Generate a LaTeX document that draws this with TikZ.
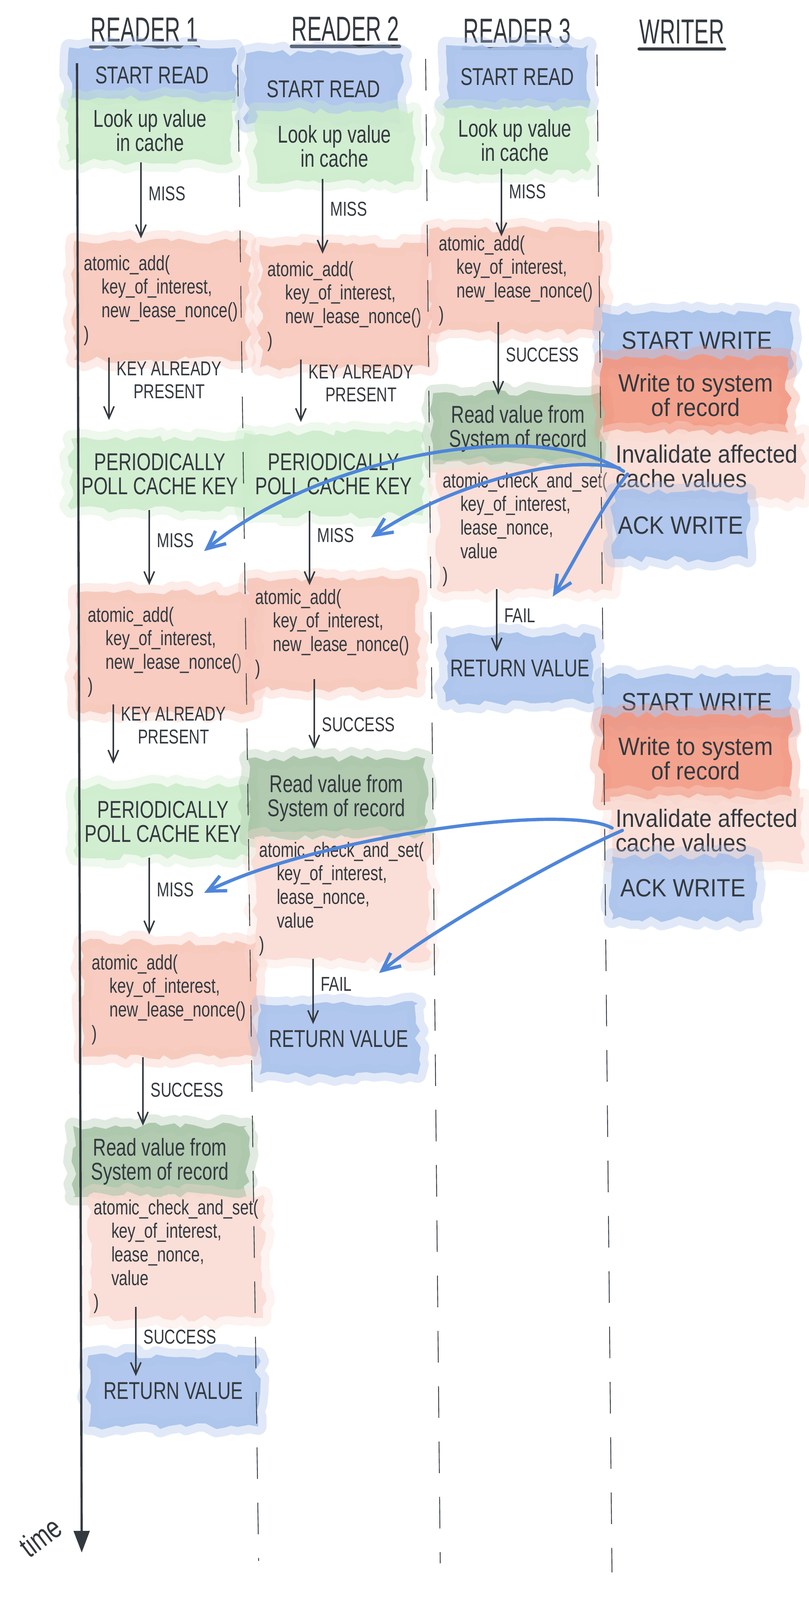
\documentclass[tikz,border=0pt]{standalone}
\usepackage{fontspec}
\setmainfont{Liberation Sans}[FakeStretch=0.75]
\newfontfamily\titlefont{Liberation Sans}[FakeStretch=0.62]
\newfontfamily\writerfont{Liberation Sans}[FakeStretch=0.9]
\usetikzlibrary{positioning, arrows.meta, decorations.pathmorphing}
\definecolor{ink}{HTML}{34393F}
\definecolor{wcblue}{HTML}{A9C1EB}
\definecolor{wcgreen}{HTML}{CDECCC}
\definecolor{wcdkgreen}{HTML}{A9C4A7}
\definecolor{wcsalmon}{HTML}{F7C6BA}
\definecolor{wcpink}{HTML}{FADCD4}
\definecolor{wcred}{HTML}{F29882}
\definecolor{pencilblue}{HTML}{4F86DA}
\newcommand{\codeind}{\hspace*{4.5mm}}

\begin{document}
\begin{tikzpicture}
    [
        ink_arrow/.style={-{Straight Barb[length=3mm, width=2.6mm]}, line width=1.1pt, draw=ink},
        blue_arrow/.style={-{Straight Barb[length=4.5mm, width=4.2mm]}, line width=2.4pt, draw=pencilblue, line cap=round},
        axis_arrow/.style={-{Triangle[length=5.5mm, width=4mm]}, line width=1.6pt, draw=ink},
        sep_line/.style={draw=ink, line width=0.6pt, dash pattern=on 8mm off 6mm},
        lbl/.style={font=\fontsize{14.5}{16.5}\selectfont, text=ink, inner sep=2pt, right=3pt, align=center},
        title/.style={font=\titlefont\fontsize{25}{25}\selectfont, text=ink, inner sep=0pt},
        uline/.style={draw=ink, line width=2.4pt, line cap=round},
        blob/.style={decorate, decoration={random steps, segment length=6pt, amplitude=2.5pt}, line join=round, fill opacity=0.9, text opacity=1, text=ink, align=center, font=\fontsize{17.5}{17.5}\selectfont},
        blue_blob/.style={blob, fill=wcblue, preaction={draw=wcblue, line width=12pt, draw opacity=0.35}},
        green_blob/.style={blob, fill=wcgreen, preaction={draw=wcgreen, line width=12pt, draw opacity=0.35}},
        dkgreen_blob/.style={blob, fill=wcdkgreen, preaction={draw=wcdkgreen, line width=12pt, draw opacity=0.35}},
        salmon_blob/.style={blob, fill=wcsalmon, preaction={draw=wcsalmon, line width=12pt, draw opacity=0.35}},
        pink_blob/.style={blob, fill=wcpink, preaction={draw=wcpink, line width=12pt, draw opacity=0.35}},
        red_blob/.style={blob, fill=wcred, preaction={draw=wcred, line width=12pt, draw opacity=0.35}},
        code/.style={align=left, font=\fontsize{15}{17}\selectfont},
        writer/.style={font=\writerfont\fontsize{18}{17.5}\selectfont},
    ]
        \useasboundingbox (0,0) rectangle (20.48,-40.50);

        % column heads
        \node[title] (t1) at (3.66,-0.75) {READER 1};
        \node[title] (t2) at (8.75,-0.73) {READER 2};
        \node[title] (t3) at (13.10,-0.78) {READER 3};
        \node[title] (t4) at (17.27,-0.80) {WRITER};
        \draw[uline] ([yshift=-1.3mm]t1.south west) -- ([yshift=-1.3mm]t1.south east);
        \draw[uline] ([yshift=-1.3mm]t2.south west) -- ([yshift=-1.3mm]t2.south east);
        \draw[uline] ([yshift=-1.3mm]t3.south west) -- ([yshift=-1.3mm]t3.south east);
        \draw[uline] ([yshift=-1.3mm]t4.south west) -- ([yshift=-1.3mm]t4.south east);

        % reader 1
        \node[blue_blob, minimum width=4.2cm, minimum height=1.4cm] (r1start) at (3.85,-1.90) {START READ};
        \node[green_blob, minimum width=4.2cm, minimum height=1.6cm] (r1look) at (3.80,-3.30) {Look up value\\in cache};
        \node[salmon_blob, code, minimum width=4.4cm, minimum height=3.0cm] (r1add) at (4.08,-7.60) {atomic\_add(\\\codeind key\_of\_interest,\\\codeind new\_lease\_nonce()\\)};
        \node[green_blob, minimum width=4.5cm, minimum height=1.8cm] (r1poll) at (4.05,-12.00) {PERIODICALLY\\POLL CACHE KEY};
        \node[salmon_blob, code, minimum width=4.5cm, minimum height=3.0cm] (r1add2) at (4.18,-16.50) {atomic\_add(\\\codeind key\_of\_interest,\\\codeind new\_lease\_nonce()\\)};
        \node[green_blob, minimum width=4.4cm, minimum height=1.8cm] (r1poll2) at (4.13,-20.80) {PERIODICALLY\\POLL CACHE KEY};
        \node[salmon_blob, code, minimum width=4.4cm, minimum height=2.9cm] (r1add3) at (4.28,-25.30) {atomic\_add(\\\codeind key\_of\_interest,\\\codeind new\_lease\_nonce()\\)};
        \node[dkgreen_blob, minimum width=4.4cm, minimum height=1.8cm] (r1read) at (4.05,-29.40) {Read value from\\System of record};
        \node[pink_blob, code, minimum width=4.1cm, minimum height=3.1cm] (r1cas) at (4.46,-31.80) {atomic\_check\_and\_set(\\\codeind key\_of\_interest,\\\codeind lease\_nonce,\\\codeind value\\)};
        \node[blue_blob, minimum width=4.3cm, minimum height=1.8cm] (r1ret) at (4.39,-35.21) {RETURN VALUE};

        % reader 2
        \node[blue_blob, minimum width=3.9cm, minimum height=1.8cm] (r2start) at (8.19,-2.25) {START READ};
        \node[green_blob, minimum width=4.0cm, minimum height=1.8cm] (r2look) at (8.47,-3.70) {Look up value\\in cache};
        \node[salmon_blob, code, minimum width=4.3cm, minimum height=3.1cm] (r2add) at (8.73,-7.75) {atomic\_add(\\\codeind key\_of\_interest,\\\codeind new\_lease\_nonce()\\)};
        \node[green_blob, minimum width=4.5cm, minimum height=2.1cm] (r2poll) at (8.45,-12.00) {PERIODICALLY\\POLL CACHE KEY};
        \node[salmon_blob, code, minimum width=4.3cm, minimum height=2.8cm] (r2add2) at (8.42,-16.05) {atomic\_add(\\\codeind key\_of\_interest,\\\codeind new\_lease\_nonce()\\)};
        \node[dkgreen_blob, minimum width=4.5cm, minimum height=2.0cm] (r2read) at (8.52,-20.20) {Read value from\\System of record};
        \node[pink_blob, code, minimum width=4.1cm, minimum height=2.9cm] (r2cas) at (8.65,-22.75) {atomic\_check\_and\_set(\\\codeind key\_of\_interest,\\\codeind lease\_nonce,\\\codeind value\\)};
        \node[blue_blob, minimum width=4.0cm, minimum height=1.8cm] (r2ret) at (8.58,-26.30) {RETURN VALUE};

        % reader 3
        \node[blue_blob, minimum width=3.6cm, minimum height=1.6cm] (r3start) at (13.10,-1.94) {START READ};
        \node[green_blob, minimum width=3.7cm, minimum height=1.6cm] (r3look) at (13.04,-3.55) {Look up value\\in cache};
        \node[salmon_blob, code, minimum width=4.4cm, minimum height=2.6cm] (r3add) at (13.07,-7.10) {atomic\_add(\\\codeind key\_of\_interest,\\\codeind new\_lease\_nonce()\\)};
        \node[dkgreen_blob, minimum width=4.3cm, minimum height=1.8cm] (r3read) at (13.12,-10.85) {Read value from\\System of record};
        \node[pink_blob, code, minimum width=4.1cm, minimum height=3.0cm] (r3cas) at (13.30,-13.40) {atomic\_check\_and\_set(\\\codeind key\_of\_interest,\\\codeind lease\_nonce,\\\codeind value\\)};
        \node[blue_blob, minimum width=3.7cm, minimum height=1.7cm] (r3ret) at (13.17,-16.92) {RETURN VALUE};

        % writer
        \node[blue_blob, writer, minimum width=4.8cm, minimum height=1.45cm] (w1start) at (17.65,-8.62) {START WRITE};
        \node[red_blob, writer, minimum width=4.7cm, minimum height=1.9cm] (w1write) at (17.62,-10.00) {Write to system\\of record};
        \node[pink_blob, writer, align=left, minimum width=4.9cm, minimum height=1.7cm] (w1inv) at (17.90,-11.80) {Invalidate affected\\cache values};
        \node[blue_blob, writer, minimum width=3.4cm, minimum height=1.7cm] (w1ack) at (17.24,-13.30) {ACK WRITE};
        \node[blue_blob, writer, minimum width=4.8cm, minimum height=1.35cm] (w2start) at (17.65,-17.77) {START WRITE};
        \node[red_blob, writer, minimum width=4.8cm, minimum height=2.2cm] (w2write) at (17.62,-19.20) {Write to system\\of record};
        \node[pink_blob, writer, align=left, minimum width=4.9cm, minimum height=1.7cm] (w2inv) at (17.90,-21.02) {Invalidate affected\\cache values};
        \node[blue_blob, writer, minimum width=3.6cm, minimum height=1.6cm] (w2ack) at (17.30,-22.48) {ACK WRITE};

        % time axis and lanes
        \coordinate (ax_top) at (1.95,-1.60);
        \coordinate (ax_bot) at (2.07,-39.30);
        \draw[axis_arrow] (ax_top) -- (ax_bot);
        \node[font=\fontsize{22}{22}\selectfont, text=ink, rotate=37] (time_lbl) at (1.02,-38.90) {time};
        \draw[sep_line] (6.02,-1.64) -- (6.55,-39.51);
        \draw[sep_line] (10.78,-1.49) -- (11.15,-39.57);
        \draw[sep_line] (15.12,-1.38) -- (15.50,-39.80);

        % reader 1 flow
        \draw[ink_arrow, shorten >=0.6mm] (r1look.south -| 3.57,0) -- (r1add.north -| 3.57,0) node[lbl, pos=0.40] {MISS};
        \draw[ink_arrow, shorten <=-0.6mm, shorten >=4.6mm] (r1add.south -| 2.76,0) -- (r1poll.north -| 2.76,0) node[lbl, pos=0.26] {KEY ALREADY\\PRESENT};
        \draw[ink_arrow, shorten >=1.8mm] (r1poll.south -| 3.78,0) -- (r1add2.north -| 3.78,0) node[lbl, pos=0.37] {MISS};
        \draw[ink_arrow, shorten <=-1.8mm, shorten >=5.6mm] (r1add2.south -| 2.87,0) -- (r1poll2.north -| 2.87,0) node[lbl, pos=0.19] {KEY ALREADY\\PRESENT};
        \draw[ink_arrow, shorten >=1.9mm] (r1poll2.south -| 3.78,0) -- (r1add3.north -| 3.78,0) node[lbl, pos=0.38] {MISS};
        \draw[ink_arrow] (r1add3.south -| 3.62,0) -- (r1read.north -| 3.62,0) node[lbl, pos=0.48] {SUCCESS};
        \draw[ink_arrow, shorten <=-2.9mm, shorten >=-5.3mm] (r1cas.south -| 3.44,0) -- (r1ret.north -| 3.44,0) node[lbl, pos=0.51] {SUCCESS};

        % reader 2 flow
        \draw[ink_arrow, shorten <=-0.8mm, shorten >=-2.3mm] (r2look.south -| 8.17,0) -- (r2add.north -| 8.17,0) node[lbl, pos=0.43] {MISS};
        \draw[ink_arrow, shorten <=-2.1mm, shorten >=2.6mm] (r2add.south -| 7.62,0) -- (r2poll.north -| 7.62,0) node[lbl, pos=0.24] {KEY ALREADY\\PRESENT};
        \draw[ink_arrow, shorten <=-1.3mm, shorten >=-1.7mm] (r2poll.south -| 7.84,0) -- (r2add2.north -| 7.84,0) node[lbl, pos=0.31] {MISS};
        \draw[ink_arrow, shorten <=-2.7mm, shorten >=2.4mm] (r2add2.south -| 7.96,0) -- (r2read.north -| 7.96,0) node[lbl, pos=0.51] {SUCCESS};
        \draw[ink_arrow, shorten <=-0.5mm, shorten >=-5.3mm] (r2cas.south -| 7.93,0) -- (r2ret.north -| 7.93,0) node[lbl, pos=0.55] {FAIL};

        % reader 3 flow
        \draw[ink_arrow, shorten <=-0.9mm, shorten >=-1.9mm] (r3look.south -| 12.70,0) -- (r3add.north -| 12.70,0) node[lbl, pos=0.34] {MISS};
        \draw[ink_arrow, shorten <=-2.6mm, shorten >=-0.5mm] (r3add.south -| 12.62,0) -- (r3read.north -| 12.62,0) node[lbl, pos=0.37] {SUCCESS};
        \draw[ink_arrow, shorten <=-0.5mm, shorten >=-4.3mm] (r3cas.south -| 12.58,0) -- (r3ret.north -| 12.58,0) node[lbl, pos=0.56] {FAIL};

        % invalidations
        \coordinate (hit_a) at (5.17,-13.95);
        \coordinate (hit_b) at (9.40,-13.60);
        \coordinate (hit_c) at (14.00,-15.10);
        \coordinate (hit_d) at (5.17,-22.60);
        \coordinate (hit_e) at (9.60,-24.63);
        \draw[blue_arrow] ([shift={(0.35,-0.13)}]w1inv.west) .. controls (13.5,-10.5) and (8.0,-11.6) .. (hit_a);
        \draw[blue_arrow] ([shift={(0.25,-0.05)}]w1inv.west) .. controls (14.3,-11.5) and (11.5,-12.2) .. (hit_b);
        \draw[blue_arrow] ([shift={(0.45,-0.20)}]w1inv.west) .. controls (15.3,-12.7) and (14.5,-14.3) .. (hit_c);
        \draw[blue_arrow] ([shift={(0.06,0.06)}]w2inv.west) .. controls (14.3,-20.3) and (8.0,-21.2) .. (hit_d);
        \draw[blue_arrow] ([shift={(0.32,0.00)}]w2inv.west) .. controls (14.2,-21.7) and (11.0,-23.5) .. (hit_e);
    \end{tikzpicture}
\end{document}
